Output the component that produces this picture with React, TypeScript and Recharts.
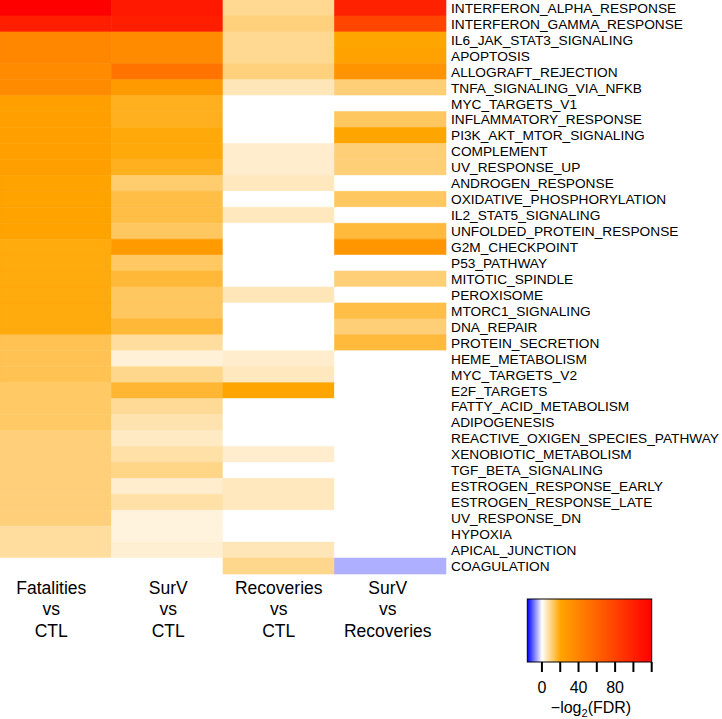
import React from 'react';
import { BarChart, Bar, XAxis, YAxis, Cell } from 'recharts';

const pathways = [
  'INTERFERON_ALPHA_RESPONSE',
  'INTERFERON_GAMMA_RESPONSE',
  'IL6_JAK_STAT3_SIGNALING',
  'APOPTOSIS',
  'ALLOGRAFT_REJECTION',
  'TNFA_SIGNALING_VIA_NFKB',
  'MYC_TARGETS_V1',
  'INFLAMMATORY_RESPONSE',
  'PI3K_AKT_MTOR_SIGNALING',
  'COMPLEMENT',
  'UV_RESPONSE_UP',
  'ANDROGEN_RESPONSE',
  'OXIDATIVE_PHOSPHORYLATION',
  'IL2_STAT5_SIGNALING',
  'UNFOLDED_PROTEIN_RESPONSE',
  'G2M_CHECKPOINT',
  'P53_PATHWAY',
  'MITOTIC_SPINDLE',
  'PEROXISOME',
  'MTORC1_SIGNALING',
  'DNA_REPAIR',
  'PROTEIN_SECRETION',
  'HEME_METABOLISM',
  'MYC_TARGETS_V2',
  'E2F_TARGETS',
  'FATTY_ACID_METABOLISM',
  'ADIPOGENESIS',
  'REACTIVE_OXIGEN_SPECIES_PATHWAY',
  'XENOBIOTIC_METABOLISM',
  'TGF_BETA_SIGNALING',
  'ESTROGEN_RESPONSE_EARLY',
  'ESTROGEN_RESPONSE_LATE',
  'UV_RESPONSE_DN',
  'HYPOXIA',
  'APICAL_JUNCTION',
  'COAGULATION',
];

const comparisonLabels = [
  ['Fatalities', 'vs', 'CTL'],
  ['SurV', 'vs', 'CTL'],
  ['Recoveries', 'vs', 'CTL'],
  ['SurV', 'vs', 'Recoveries'],
];

// -log2(FDR) values per comparison (0 = not significant / white)
const fatalitiesVsCtl = [
  120, 102, 38, 38, 35, 35, 23, 23, 23, 23, 23, 21, 21, 21, 21, 19, 19, 19,
  19, 19, 19, 13.5, 13.5, 13.5, 12, 12, 12, 10.5, 10.5, 10.5, 10.5, 10.5, 10.5,
  7.5, 7.5, 0,
];
const survVsCtl = [
  105, 102, 35, 35, 50, 26, 17.6, 17.6, 19.2, 19.2, 17.6, 11.4, 14.5, 14.5,
  12.5, 26, 12.2, 15.7, 12.5, 12.5, 15.7, 7.5, 3.1, 9, 16, 8.2, 6.3, 4.7, 7,
  9.4, 3.9, 7, 2.7, 2.7, 3.5, 0,
];
const recoveriesVsCtl = [
  8.6, 10.2, 8.6, 8.6, 10.2, 5.5, 0, 0, 0, 3.9, 3.9, 5.1, 0, 5.1, 0, 0, 0, 0,
  5.5, 0, 0, 0, 3.9, 5.1, 20, 0, 0, 0, 3.9, 0, 5.1, 5.1, 0, 0, 5.5, 9,
];
const survVsRecoveries = [
  100, 78, 20, 22, 31, 10.6, 0, 12.5, 20, 10.6, 10.6, 0, 12.5, 0, 15.3, 29, 0,
  10.6, 0, 14.5, 10.6, 15.3, 0, 0, 0, 0, 0, 0, 0, 0, 0, 0, 0, 0, 0, -5,
];

const seriesValues = [fatalitiesVsCtl, survVsCtl, recoveriesVsCtl, survVsRecoveries];
const seriesKeys = ['c0', 'c1', 'c2', 'c3'];
const columnTicks = [0.5, 1.5, 2.5, 3.5];
// small horizontal nudges of the column captions, as in the original figure
const captionNudge = [-4.5, 1, 0, -2.5];

const colorStops: [number, [number, number, number]][] = [
  [-16, [0, 0, 255]],
  [0, [255, 255, 255]],
  [20, [255, 165, 0]],
  [120, [255, 0, 0]],
];
const legendDomain = [-16, 120];
const legendTicks = [0, 20, 40, 60, 80, 100, 120];
const legendLabels = [0, 40, 80];

function colorFor(v: number): string {
  const s = colorStops;
  if (v <= s[0][0]) return `rgb(${s[0][1].join(',')})`;
  for (let i = 1; i < s.length; i++) {
    if (v <= s[i][0]) {
      const t = (v - s[i - 1][0]) / (s[i][0] - s[i - 1][0]);
      const c = s[i - 1][1].map((a, k) => Math.round(a + (s[i][1][k] - a) * t));
      return `rgb(${c.join(',')})`;
    }
  }
  return `rgb(${s[s.length - 1][1].join(',')})`;
}

const data = pathways.map((p) => ({ pathway: p, c0: 1, c1: 1, c2: 1, c3: 1 }));

const FONT = '"Liberation Sans", Arial, Helvetica, sans-serif';

const ColumnTick = (props: any) => {
  const { x, y, payload } = props;
  const idx = Math.floor(payload.value);
  const lines = comparisonLabels[idx] || [];
  const nx = x + (captionNudge[idx] || 0);
  return (
    <g>
      {lines.map((t, k) => (
        <text
          key={k}
          x={nx}
          y={y + 20 + k * 21.3}
          textAnchor="middle"
          fontSize={17.5}
          fill="#000"
          fontFamily={FONT}
        >
          {t}
        </text>
      ))}
    </g>
  );
};

const Legend = () => {
  const x0 = 527.3;
  const x1 = 651.7;
  const y0 = 599;
  const y1 = 662;
  const sx = (v: number) => x0 + ((v - legendDomain[0]) / (legendDomain[1] - legendDomain[0])) * (x1 - x0);
  return (
    <svg
      width={722}
      height={719}
      style={{ position: 'absolute', left: 0, top: 0, pointerEvents: 'none' }}
      fontFamily={FONT}
    >
      <defs>
        <linearGradient id="fdrGrad" x1="0" x2="1" y1="0" y2="0">
          {colorStops.map(([v, c], i) => (
            <stop
              key={i}
              offset={(v - legendDomain[0]) / (legendDomain[1] - legendDomain[0])}
              stopColor={`rgb(${c.join(',')})`}
            />
          ))}
        </linearGradient>
      </defs>
      <rect x={x0} y={y0} width={x1 - x0} height={y1 - y0} fill="url(#fdrGrad)" stroke="#000" strokeWidth={1} />
      {legendTicks.map((t) => (
        <line key={t} x1={sx(t)} x2={sx(t)} y1={y1} y2={y1 + 10} stroke="#000" strokeWidth={2} />
      ))}
      {legendLabels.map((t) => (
        <text key={t} x={sx(t)} y={693} textAnchor="middle" fontSize={16} fill="#000">
          {t}
        </text>
      ))}
      <text x={591} y={713} textAnchor="middle" fontSize={16} fill="#000">
        −log
        <tspan fontSize={11} dy={4}>2</tspan>
        <tspan dy={-4}>(FDR)</tspan>
      </text>
    </svg>
  );
};

export default function App() {
  return (
    <div style={{ position: 'absolute', left: 0, top: 0, width: 722, height: 719, fontFamily: FONT, background: '#fff' }}>
      <BarChart
        width={722}
        height={719}
        data={data}
        layout="vertical"
        margin={{ top: 0, right: 0, bottom: 0, left: 0 }}
        barCategoryGap={0}
        barGap={0}
      >
        <XAxis
          type="number"
          domain={[0, 4]}
          ticks={columnTicks}
          interval={0}
          height={145}
          axisLine={false}
          tickLine={false}
          tickSize={0}
          tickMargin={0}
          tick={<ColumnTick />}
        />
        <YAxis
          type="category"
          dataKey="pathway"
          orientation="right"
          width={276}
          interval={0}
          axisLine={false}
          tickLine={false}
          tickSize={0}
          tickMargin={5}
          tick={{ fontSize: 13.7, fill: '#000', fontFamily: FONT }}
        />
        {seriesKeys.map((key, si) => (
          <Bar key={key} dataKey={key} stackId="heat" isAnimationActive={false}>
            {data.map((_, ri) => {
              const c = colorFor(seriesValues[si][ri]);
              return <Cell key={ri} fill={c} stroke={c} strokeWidth={0.6} />;
            })}
          </Bar>
        ))}
      </BarChart>
      <Legend />
    </div>
  );
}
